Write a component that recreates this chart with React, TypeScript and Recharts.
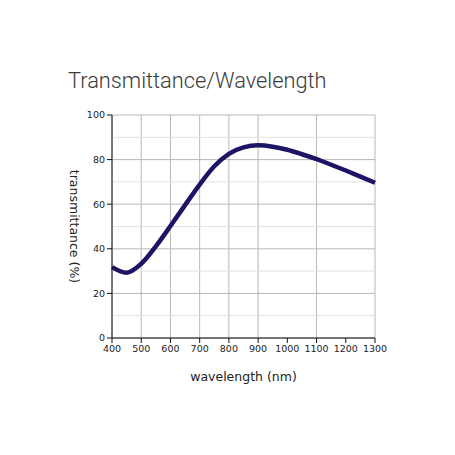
import { CartesianGrid, Label, Line, LineChart, ReferenceLine, XAxis, YAxis } from 'recharts';

const wavelengths = [400, 450, 500, 550, 600, 650, 700, 750, 800, 850, 900, 950, 1000, 1050, 1100, 1150, 1200, 1250, 1300];
const transmittance = [31.8, 29.3, 33.3, 41.1, 50.2, 59.6, 68.8, 77, 82.6, 85.5, 86.4, 85.8, 84.4, 82.4, 80.2, 77.7, 75.1, 72.4, 69.6];
const xTicks = [400, 500, 600, 700, 800, 900, 1000, 1100, 1200, 1300];
const yTicks = [0, 20, 40, 60, 80, 100];
const yMinor = [10, 30, 50, 70, 90];

const data = wavelengths.map((w, i) => ({ wavelength: w, value: transmittance[i] }));

const tickStyle = { fill: '#222', fontSize: 9.5, fontFamily: '"DejaVu Sans", sans-serif' };
const labelFont = '"DejaVu Sans", sans-serif';

export default function App() {
  return (
    <div style={{ position: 'absolute', left: 0, top: 0, width: 455, height: 455, background: '#fff' }}>
      <div
        style={{
          position: 'absolute',
          left: 68,
          top: 68,
          fontFamily: 'Roboto, sans-serif',
          fontWeight: 300,
          fontSize: 21.8,
          color: '#3a3a3a',
          whiteSpace: 'nowrap',
        }}
      >
        Transmittance/Wavelength
      </div>
      <LineChart
        width={455}
        height={455}
        data={data}
        margin={{ top: 115, right: 80, bottom: 87, left: 72 }}
      >
        <CartesianGrid
          stroke="#b8b8b8"
          horizontalValues={yTicks}
          verticalValues={xTicks}
        />
        {yMinor.map((v) => (
          <ReferenceLine key={v} y={v} stroke="#e3e3e3" ifOverflow="hidden" />
        ))}
        <XAxis
          dataKey="wavelength"
          type="number"
          domain={[400, 1300]}
          ticks={xTicks}
          height={30}
          stroke="#111"
          tick={tickStyle}
          tickSize={5}
        >
          <Label
            value="wavelength (nm)"
            position="insideBottom"
            offset={-13}
            style={{ fill: '#222', fontSize: 12.5, fontFamily: labelFont }}
          />
        </XAxis>
        <YAxis
          type="number"
          domain={[0, 100]}
          ticks={yTicks}
          width={40}
          stroke="#111"
          tick={tickStyle}
          tickSize={5}
        >
          <Label
            value="transmittance (%)"
            angle={90}
            position="insideLeft"
            offset={2}
            style={{ textAnchor: 'middle', fill: '#222', fontSize: 12.5, fontFamily: labelFont }}
          />
        </YAxis>
        <Line
          type="monotone"
          dataKey="value"
          stroke="#1c1464"
          strokeWidth={4.5}
          dot={false}
          isAnimationActive={false}
        />
      </LineChart>
    </div>
  );
}
